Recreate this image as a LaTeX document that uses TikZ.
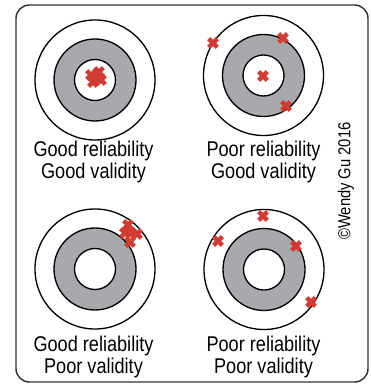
\documentclass[tikz,border=0pt]{standalone}
\usepackage{fontspec}
\setmainfont{Liberation Sans}[FakeStretch=0.85]
\usepackage{xcolor}
\definecolor{ringgray}{HTML}{A8A9AC}
\definecolor{hitred}{HTML}{D13B31}
\tikzset{
  every picture/.style={line join=round, line cap=round},
  frame/.style={draw=black!80, line width=1.1pt, rounded corners=10pt},
  ring/.style={draw=black, line width=1pt},
  band/.style={ring, fill=ringgray},
  hit/.style={draw=hitred, line width=3.2pt, line cap=butt},
  caption/.style={font=\fontsize{16}{16.5}\selectfont, align=center, anchor=north, inner sep=0pt},
  cross/.pic={\draw[hit] (-4.3,-4.3)--(4.3,4.3) (-4.3,4.3)--(4.3,-4.3);},
}
\newcommand{\target}[1]{%
  \draw[ring] (#1) circle (60);
  \draw[band] (#1) circle (41);
  \draw[ring,fill=white] (#1) circle (20.5);}

\begin{document}
\begin{tikzpicture}[x=0.75pt,y=0.75pt]
\useasboundingbox (0,0) rectangle (370,384);
\draw[frame] (16,2) rectangle (368,379);
% targets
\target{95,304}
\target{263.5,308.5}
\target{95,115}
\target{264,114.5}
% hits
\path (91,309) pic{cross} (99,312) pic{cross} (101,304) pic{cross}
      (93,302) pic{cross} (96,307) pic{cross};
\path (213,341) pic{cross} (283,346) pic{cross} (263,308) pic{cross}
      (286,278) pic{cross};
\path (128,159) pic{cross} (137,150) pic{cross} (130,142) pic{cross}
      (125,151) pic{cross} (131,151) pic{cross};
\path (263,168) pic{cross} (218,143) pic{cross} (296,138) pic{cross}
      (311,82) pic{cross};
% captions
\node[caption] (gg) at (93.5,243) {Good reliability\\Good validity};
\node[caption] (pg) at (263.5,243) {Poor reliability\\Good validity};
\node[caption] (gp) at (93.5,48) {Good reliability\\Poor validity};
\node[caption] (pp) at (263.5,48) {Poor reliability\\Poor validity};
\node[rotate=90, font=\fontsize{13}{14}\selectfont, inner sep=0pt] (copy) at (346,203) {©Wendy Gu 2016};
\end{tikzpicture}
\end{document}
